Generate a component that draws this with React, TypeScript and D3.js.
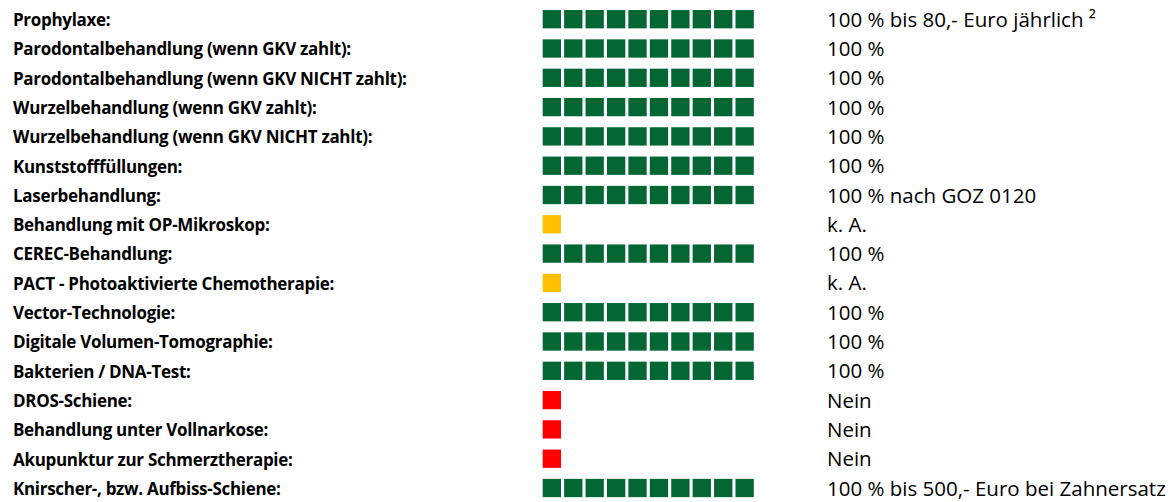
import { useMemo } from 'react';
import * as d3 from 'd3';

// Leistungen, gefüllte Kästchen (von 10), Status, Erstattung
const labels = [
  'Prophylaxe:',
  'Parodontalbehandlung (wenn GKV zahlt):',
  'Parodontalbehandlung (wenn GKV NICHT zahlt):',
  'Wurzelbehandlung (wenn GKV zahlt):',
  'Wurzelbehandlung (wenn GKV NICHT zahlt):',
  'Kunststofffüllungen:',
  'Laserbehandlung:',
  'Behandlung mit OP-Mikroskop:',
  'CEREC-Behandlung:',
  'PACT - Photoaktivierte Chemotherapie:',
  'Vector-Technologie:',
  'Digitale Volumen-Tomographie:',
  'Bakterien / DNA-Test:',
  'DROS-Schiene:',
  'Behandlung unter Vollnarkose:',
  'Akupunktur zur Schmerztherapie:',
  'Knirscher-, bzw. Aufbiss-Schiene:',
];

const boxes = [10, 10, 10, 10, 10, 10, 10, 1, 10, 1, 10, 10, 10, 1, 1, 1, 10];

const status = [
  'ja', 'ja', 'ja', 'ja', 'ja', 'ja', 'ja', 'ka', 'ja', 'ka',
  'ja', 'ja', 'ja', 'nein', 'nein', 'nein', 'ja',
];

const erstattung = [
  '100 % bis 80,- Euro jährlich ²',
  '100 %',
  '100 %',
  '100 %',
  '100 %',
  '100 %',
  '100 % nach GOZ 0120',
  'k. A.',
  '100 %',
  'k. A.',
  '100 %',
  '100 %',
  '100 %',
  'Nein',
  'Nein',
  'Nein',
  '100 % bis 500,- Euro bei Zahnersatz',
];

const maxBoxes = 10;

const width = 1175;
const height = 502;

const App = () => {
  const y = useMemo(
    () => d3.scalePoint<string>().domain(labels).range([19.2, 488]),
    []
  );
  const x = useMemo(
    () => d3.scaleLinear().domain([0, maxBoxes - 1]).range([542.7, 735.5]),
    []
  );
  const color = d3
    .scaleOrdinal<string, string>()
    .domain(['ja', 'ka', 'nein'])
    .range(['#036633', '#ffc000', '#ff0000']);

  const size = 18.3;

  return (
    <svg
      width={width}
      height={height}
      style={{ position: 'absolute', left: 0, top: 0 }}
      fontFamily="'Open Sans', sans-serif"
    >
      {labels.map((label, i) => {
        const cy = y(label) || 0;
        return (
          <g key={label}>
            <text
              x={13}
              y={cy + 6.8}
              fontSize={17}
              letterSpacing={-0.3}
              fontWeight="bold"
              fill="#000"
            >
              {label}
            </text>
            {d3.range(boxes[i]).map((k) => (
              <rect
                key={k}
                x={x(k)}
                y={cy - size / 2}
                width={size}
                height={size}
                fill={color(status[i])}
              />
            ))}
            <text x={827} y={cy + 7.5} fontSize={20.5} fill="#000">
              {erstattung[i]}
            </text>
          </g>
        );
      })}
    </svg>
  );
};

export default App;
